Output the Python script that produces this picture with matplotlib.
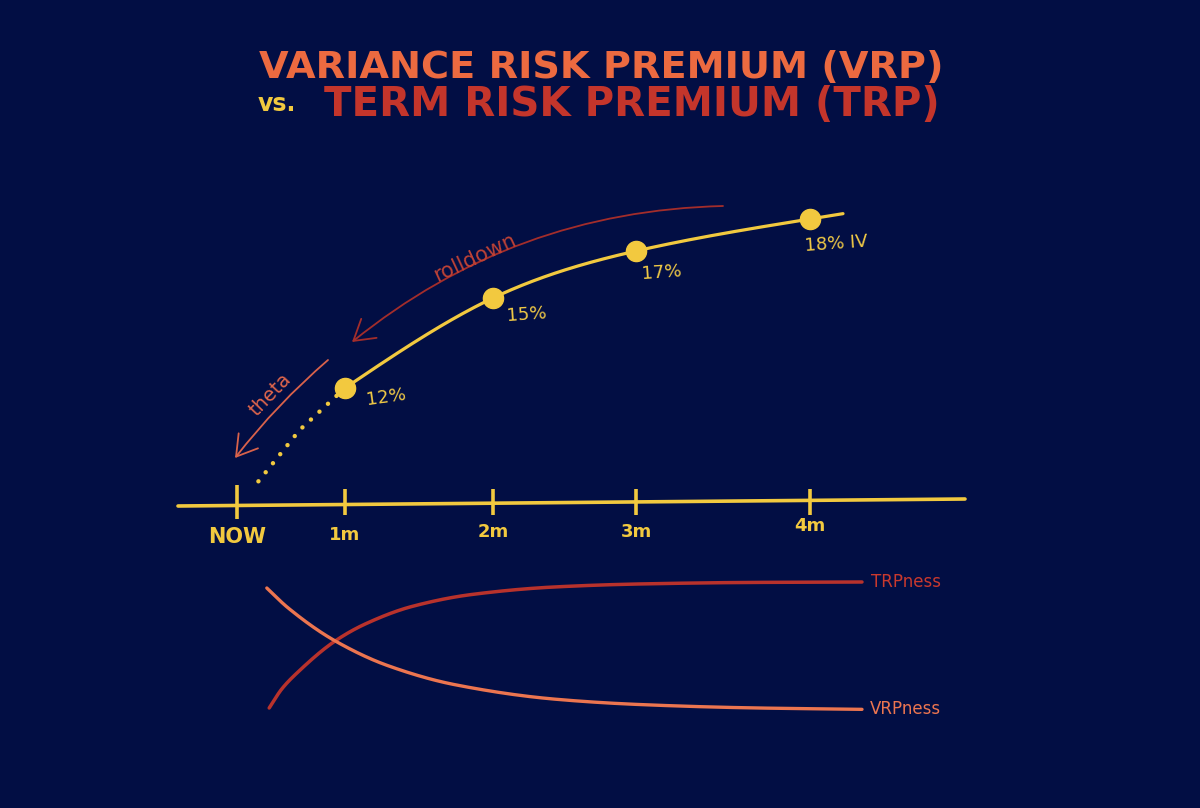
import numpy as np
import matplotlib
matplotlib.use("Agg")
import matplotlib.pyplot as plt

# ---------------- data ----------------
tick_labels = ["NOW", "1m", "2m", "3m", "4m"]
tick_months = [0, 1, 2, 3, 4]
tenor_months = [1, 2, 3, 4]
iv_values = [12, 15, 17, 18]
iv_labels = ["12%", "15%", "17%", "18% IV"]
# theta decay path from the 1m point back towards NOW (months, IV)
theta_months = [1.0, 0.58, 0.185]
theta_iv = [12.0, 10.6, 8.83]
# conceptual "-ness" curves (normalised time 0..1, level 0..1)
trp_t = [0.012, 0.033, 0.06, 0.122, 0.172, 0.25, 0.35, 0.488, 0.63, 0.813, 1.0]
trp_ness = [0.08, 0.207, 0.32, 0.527, 0.64, 0.757, 0.837, 0.887, 0.907, 0.917, 0.92]
vrp_t = [0.008, 0.043, 0.122, 0.21, 0.322, 0.488, 0.63, 0.813, 1.0]
vrp_ness = [0.88, 0.749, 0.527, 0.362, 0.235, 0.139, 0.103, 0.081, 0.071]

# ---------------- style ----------------
BG = "#020E44"
YEL = "#F2C93F"
YEL_TXT = "#F0C946"
ORANGE = "#EC6A40"
RED = "#C4352B"
DARKRED = "#A32D2B"
SALMON = "#D9624B"
VRP_C = "#EC7550"
TRP_C = "#B8322C"

W, H = 1200, 808
fig = plt.figure(figsize=(W / 100, H / 100), dpi=100, facecolor=BG)

# hand-drawn spacing of the sketch (value -> drawing position in pixels)
knot_m = np.array([-20, 0, 1, 2, 3, 4, 20], dtype=float)
knot_p = np.array([237 - 20 * 108, 237, 345, 493, 636, 810, 810 + 16 * 174], dtype=float)
knot_iv = np.array([-60, 12, 15, 17, 18, 80], dtype=float)
knot_py = np.array([388 + 72 * 30, 388, 298, 251, 219, 219 - 62 * 32], dtype=float)


def fwd(x):
    return np.interp(x, knot_m, knot_p)


def inv(p):
    return np.interp(p, knot_p, knot_m)


def yfwd(v):
    return -np.interp(v, knot_iv, knot_py)


def yinv(hh):
    return np.interp(-np.asarray(hh, float), knot_py[::-1], knot_iv[::-1])


def py(p):
    """vertical drawing position (pixels from top) -> IV units"""
    return yinv(-np.asarray(p, float))


def natural_spline(xs, ys, n=80, extend=0.0):
    """Smooth natural cubic spline rendering through the given points."""
    xs = np.asarray(xs, float)
    ys = np.asarray(ys, float)
    k = len(xs)
    h = np.diff(xs)
    d = np.diff(ys) / h
    M = np.zeros(k)
    A = np.zeros((k - 2, k - 2))
    r = np.zeros(k - 2)
    for i in range(k - 2):
        A[i, i] = 2 * (h[i] + h[i + 1])
        if i + 1 < k - 2:
            A[i, i + 1] = h[i + 1]
            A[i + 1, i] = h[i + 1]
        r[i] = 6 * (d[i + 1] - d[i])
    M[1:-1] = np.linalg.solve(A, r)
    outx, outy = [], []
    for i in range(k - 1):
        x = np.linspace(xs[i], xs[i + 1], n)
        a = xs[i + 1] - x
        b = x - xs[i]
        y = (M[i] * a**3 + M[i + 1] * b**3) / (6 * h[i]) \
            + (ys[i] / h[i] - M[i] * h[i] / 6) * a + (ys[i + 1] / h[i] - M[i + 1] * h[i] / 6) * b
        outx.append(x)
        outy.append(y)
    outx = np.concatenate(outx)
    outy = np.concatenate(outy)
    if extend > 0:
        slope = d[-1] + h[-1] * (M[-2] + 2 * M[-1]) / 6
        ex = np.linspace(xs[-1], xs[-1] + extend, 10)
        outx = np.concatenate([outx, ex])
        outy = np.concatenate([outy, ys[-1] + slope * (ex - xs[-1])])
    return outx, outy


def hermite_curve(xs, ys, n=40):
    """Smooth monotone cubic rendering through the given points."""
    xs = np.asarray(xs, float)
    ys = np.asarray(ys, float)
    h = np.diff(xs)
    d = np.diff(ys) / h
    m = np.zeros_like(ys)
    for k in range(1, len(xs) - 1):
        if d[k - 1] * d[k] <= 0:
            m[k] = 0
        else:
            w1 = 2 * h[k] + h[k - 1]
            w2 = h[k] + 2 * h[k - 1]
            m[k] = (w1 + w2) / (w1 / d[k - 1] + w2 / d[k])
    m[0] = d[0]
    m[-1] = d[-1]
    outx, outy = [], []
    for k in range(len(xs) - 1):
        t = np.linspace(0, 1, n)
        h00 = 2 * t**3 - 3 * t**2 + 1
        h10 = t**3 - 2 * t**2 + t
        h01 = -2 * t**3 + 3 * t**2
        h11 = t**3 - t**2
        outx.append(xs[k] + t * h[k])
        outy.append(h00 * ys[k] + h10 * h[k] * m[k] + h01 * ys[k + 1] + h11 * h[k] * m[k + 1])
    return np.concatenate(outx), np.concatenate(outy)


ax = fig.add_axes([0, 0, 1, 1])
ax.set_facecolor(BG)
ax.set_xscale("function", functions=(fwd, inv))
ax.set_yscale("function", functions=(yfwd, yinv))
ax.set_xlim(inv(0), inv(W))
ax.set_ylim(py(H), py(0))
ax.axis("off")

axis_level = float(py(502))

# axis line
ax.plot([inv(178), inv(965)], [py(506), py(499)],
        color=YEL, lw=2.6, solid_capstyle="round", zorder=2)
# ticks + labels
lab_dy = [-35, -33, -30, -30, -24]
for i, m in enumerate(tick_months):
    ms = 24 if i == 0 else 19
    ax.plot([m], [axis_level], marker="|", markersize=ms, markeredgewidth=2.6,
            color=YEL, zorder=3)
    ax.annotate(tick_labels[i], (m, axis_level), xytext=(0, lab_dy[i]),
                textcoords="offset pixels", color=YEL,
                fontsize=15 if i == 0 else 13, fontweight="bold",
                ha="center", va="center", family="DejaVu Sans")

# IV term structure curve, smooth in drawing space, continued a little past 4m
px = fwd(np.array(tenor_months, dtype=float))
pv = -yfwd(np.array(iv_values, dtype=float))
cx, cy = natural_spline(px, pv, extend=33)
ax.plot(inv(cx), py(cy), color=YEL, lw=2.3, zorder=3, solid_capstyle="round")
ax.plot(tenor_months, iv_values, "o", color=YEL, markersize=14.5, zorder=4)

# dotted theta decay
ax.plot(theta_months, theta_iv, color=YEL, lw=3.2,
        linestyle=(0, (0.01, 2.6)), dash_capstyle="round", zorder=3)

# value labels
lab_off = [(41, -9), (34, -17), (26, -22), (26, -25)]
for m, v, t, (dx, dy) in zip(tenor_months, iv_values, iv_labels, lab_off):
    ax.annotate(t, (m, v), xytext=(dx, dy), textcoords="offset pixels",
                color=YEL_TXT, fontsize=13, ha="center",
                va="center", rotation=8 if t == "12%" else 4)

# rolldown arrow
ax.annotate("", xy=(inv(352), py(342)), xytext=(inv(723), py(206)),
            arrowprops=dict(arrowstyle="->,head_length=0.9,head_width=0.55",
                            color=DARKRED, lw=1.3, mutation_scale=16,
                            connectionstyle="arc3,rad=0.17", shrinkA=0, shrinkB=0))
ax.text(inv(475), py(258), "rolldown", color="#BE4236", fontsize=15,
        rotation=25, ha="center", va="center")

# theta arrow
ax.annotate("", xy=(inv(235), py(458)), xytext=(inv(328), py(360)),
            arrowprops=dict(arrowstyle="->,head_length=0.9,head_width=0.55",
                            color=SALMON, lw=1.3, mutation_scale=16,
                            connectionstyle="arc3,rad=0.05", shrinkA=0, shrinkB=0))
ax.text(inv(270), py(395), "theta", color="#E0664C", fontsize=14,
        rotation=46, ha="center", va="center")

# ---------------- title ----------------
fig.text(601 / W, 1 - 68 / H, "VARIANCE RISK PREMIUM (VRP)", color=ORANGE,
         fontsize=27.5, fontweight="bold", ha="center", va="center")
fig.text(258 / W, 1 - 104 / H, "vs.", color=YEL, fontsize=17, fontweight="bold",
         ha="left", va="center")
fig.text(632 / W, 1 - 105 / H, "TERM RISK PREMIUM (TRP)", color=RED,
         fontsize=29, fontweight="bold", ha="center", va="center")

# ---------------- lower "-ness" panel ----------------
ax2 = fig.add_axes([262 / W, (H - 720) / H, 600 / W, 150 / H])
ax2.set_xlim(0, 1)
ax2.set_ylim(0, 1)
ax2.axis("off")
tx, ty = hermite_curve(trp_t, trp_ness)
vx, vy = hermite_curve(vrp_t, vrp_ness)
ax2.plot(tx, ty, color=TRP_C, lw=2.5, solid_capstyle="round", clip_on=False)
ax2.plot(vx, vy, color=VRP_C, lw=2.4, solid_capstyle="round", clip_on=False)
ax2.text(1.015, trp_ness[-1], "TRPness", color="#C9392E", fontsize=12,
         ha="left", va="center", clip_on=False)
ax2.text(1.013, vrp_ness[-1], "VRPness", color=VRP_C, fontsize=12,
         ha="left", va="center", clip_on=False)

fig.savefig("out.png", dpi=100, facecolor=BG)
